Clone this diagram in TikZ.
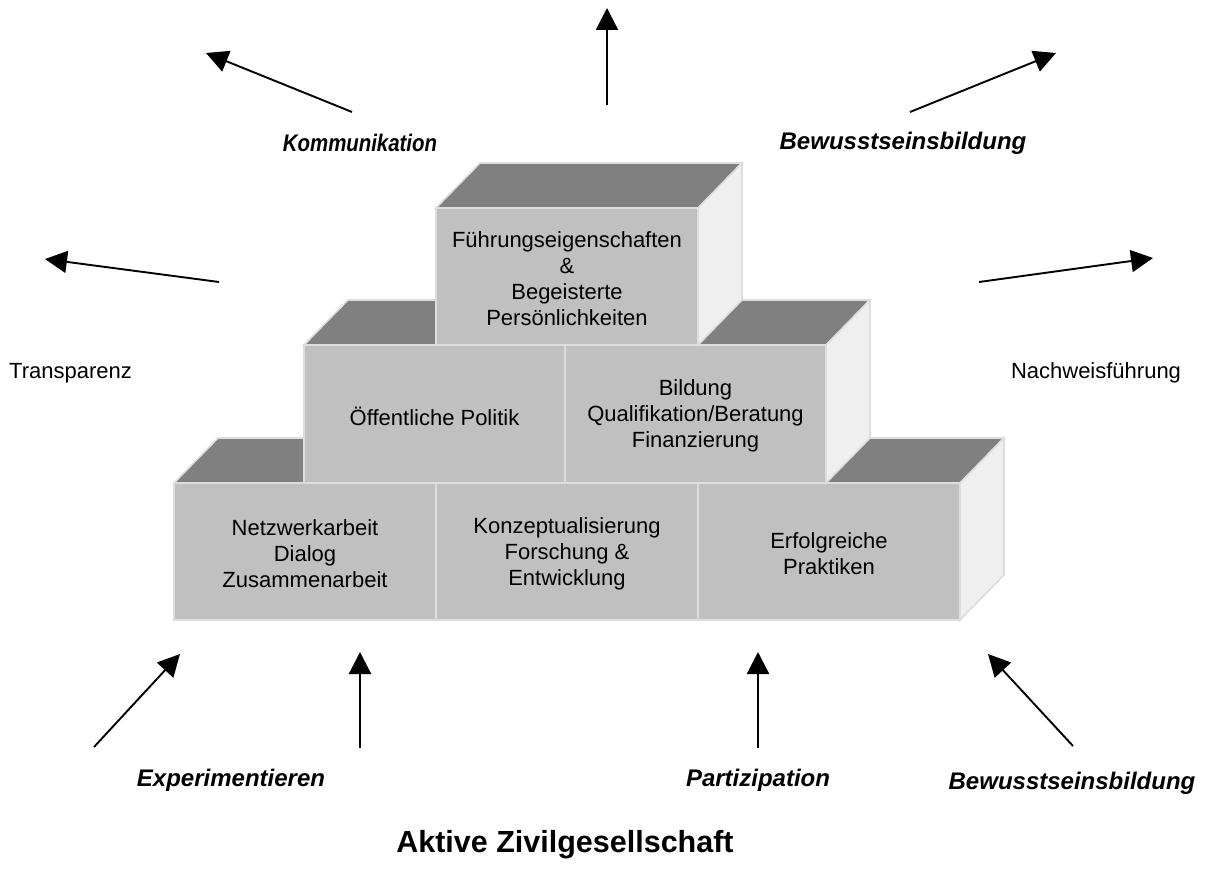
\documentclass[tikz,border=0pt]{standalone}
\usepackage{fontspec}
\setmainfont{Liberation Sans}
\usetikzlibrary{arrows.meta}

\definecolor{frontgray}{HTML}{C0C0C0}
\definecolor{topgray}{HTML}{808080}
\definecolor{sidegray}{HTML}{EFEFEF}
\definecolor{edgegray}{HTML}{DDDDDD}

\tikzset{
  faceedge/.style={draw=edgegray, line width=1.6pt, line join=miter},
  topface/.style={faceedge, fill=topgray},
  sideface/.style={faceedge, fill=sidegray},
  frontface/.style={faceedge, fill=frontgray},
  blocktext/.style={align=center, text=black, inner sep=0pt,
    font=\fontsize{22}{26}\selectfont},
  forcelabel/.style={align=center, text=black, inner sep=0pt,
    font=\fontsize{24}{28}\selectfont\bfseries\itshape},
  sidelabel/.style={text=black, inner sep=0pt,
    font=\fontsize{22}{26}\selectfont},
  titlelabel/.style={text=black, inner sep=0pt,
    font=\fontsize{30.5}{36}\selectfont\bfseries},
  pusharrow/.style={draw=black, line width=2.3pt,
    -{Triangle[length=22pt, width=22pt]}},
  slantarrow/.style={draw=black, line width=1.9pt,
    -{Triangle[length=22pt, width=22pt]}},
}

% one block of the pyramid: name, left, top, width, height, text
\newcommand\pyrblock[6]{%
  \path[topface] (#2,#3) -- ++(44,-45) -- ++(#4,0) -- ++(-44,45) -- cycle;
  \path[sideface] (#2+#4,#3) -- ++(44,-45) -- ++(0,#5) -- ++(-44,45) -- cycle;
  \path[frontface] (#2,#3) rectangle ++(#4,#5);
  \node[blocktext] (#1) at (#2+#4/2,#3+#5/2+2) {#6};
}

\begin{document}
\begin{tikzpicture}[x=1pt, y=-1pt]
  \useasboundingbox (0,0) rectangle (1215,888);

  % bottom row
  \pyrblock{netz}{174}{483}{262}{137}{Netzwerkarbeit\\Dialog\\Zusammenarbeit}
  \pyrblock{konz}{436}{483}{262}{137}{Konzeptualisierung\\Forschung \&\\Entwicklung}
  \pyrblock{erfo}{698}{483}{262}{137}{Erfolgreiche\\Praktiken}

  % middle row
  \pyrblock{poli}{304}{345}{261}{138}{Öffentliche Politik}
  \pyrblock{bild}{565}{345}{261}{138}{Bildung\\Qualifikation/Beratung\\Finanzierung}

  % top block
  \pyrblock{fuehr}{436}{208}{262}{137}{Führungseigenschaften\\\&\\Begeisterte\\Persönlichkeiten}

  % labels
  \node[forcelabel] (komm) at (360,143) {\scalebox{0.85}[1]{Kommunikation}};
  \node[forcelabel] (bewo) at (903,143) {Bewusstseinsbildung};
  \node[sidelabel, anchor=west] (trans) at (9,373) {Transparenz};
  \node[sidelabel] (nachw) at (1096,373) {Nachweisführung};
  \node[forcelabel] (expe) at (231,780) {Experimentieren};
  \node[forcelabel] (part) at (758,780) {Partizipation};
  \node[forcelabel] (bewu) at (1072,783) {Bewusstseinsbildung};
  \node[titlelabel] (aktiv) at (565,845) {Aktive Zivilgesellschaft};

  % arrow ends
  \coordinate (tlA) at (352,112);  \coordinate (tlB) at (206,53);
  \coordinate (tmA) at (607,105);  \coordinate (tmB) at (607,8);
  \coordinate (trA) at (910,112);  \coordinate (trB) at (1056,53);
  \coordinate (mlA) at (219,282);  \coordinate (mlB) at (45,259);
  \coordinate (mrA) at (979,282);  \coordinate (mrB) at (1153,258);
  \coordinate (b1A) at (94,747);   \coordinate (b1B) at (180,654);
  \coordinate (b2A) at (360,748);  \coordinate (b2B) at (360,652);
  \coordinate (b3A) at (758,748);  \coordinate (b3B) at (758,652);
  \coordinate (b4A) at (1073,746); \coordinate (b4B) at (988,654);

  % arrows pointing outwards from the pyramid
  \draw[slantarrow] (tlA) -- (tlB);
  \draw[pusharrow]  (tmA) -- (tmB);
  \draw[slantarrow] (trA) -- (trB);
  \draw[slantarrow] (mlA) -- (mlB);
  \draw[slantarrow] (mrA) -- (mrB);

  % arrows pushing into the pyramid
  \draw[slantarrow] (b1A) -- (b1B);
  \draw[pusharrow]  (b2A) -- (b2B);
  \draw[pusharrow]  (b3A) -- (b3B);
  \draw[slantarrow] (b4A) -- (b4B);
\end{tikzpicture}
\end{document}
